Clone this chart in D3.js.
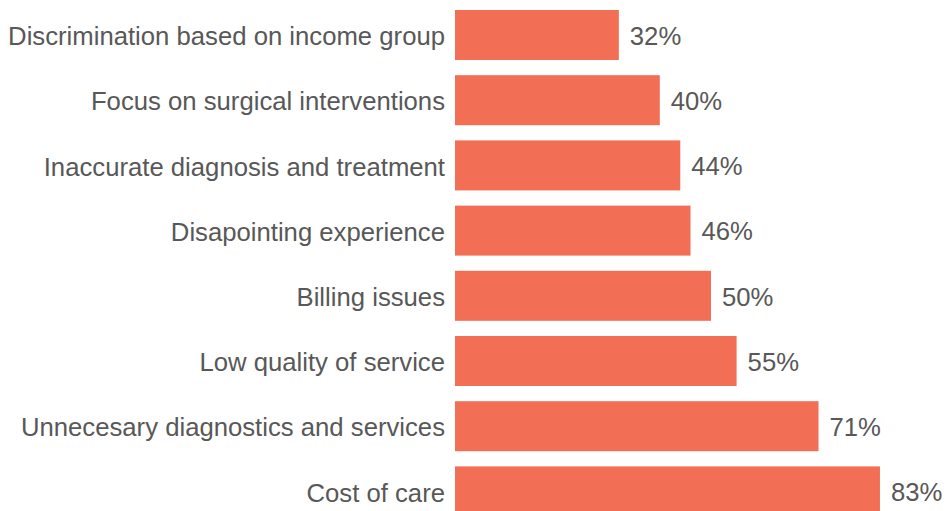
<!DOCTYPE html>
<html>
<head>
<meta charset="utf-8">
<script src="https://cdn.jsdelivr.net/npm/d3@7"></script>
<style>
  html, body { margin: 0; padding: 0; background: #fff; }
  svg { display: block; }
</style>
</head>
<body>
<script>
// Reasons reported, with the share of respondents for each
const categories = [
  "Discrimination based on income group",
  "Focus on surgical interventions",
  "Inaccurate diagnosis and treatment",
  "Disapointing experience",
  "Billing issues",
  "Low quality of service",
  "Unnecesary diagnostics and services",
  "Cost of care"
];
const values = [32, 40, 44, 46, 50, 55, 71, 83];

const width = 948, height = 511;
const barColor = "#F26F55";
const textColor = "#585858";
const fontFamily = "'Helvetica Neue', Helvetica, 'Liberation Sans', Arial, sans-serif";
const fontSize = "25.7px";

const svg = d3.select("body").append("svg")
  .attr("width", width)
  .attr("height", height);

const x = d3.scaleLinear().domain([0, 100]).range([455, 967]);

const pad = 0.233;
const step = 65.2;
const y = d3.scaleBand()
  .domain(categories)
  .range([10 - step * pad / 2, 10 - step * pad / 2 + step * categories.length])
  .paddingInner(pad)
  .paddingOuter(pad / 2);

const rows = categories.map((c, i) => ({ c, v: values[i] }));

// Bars
svg.append("g").selectAll("rect")
  .data(rows)
  .join("rect")
  .attr("x", x(0))
  .attr("y", d => y(d.c))
  .attr("width", d => x(d.v) - x(0))
  .attr("height", y.bandwidth())
  .attr("fill", barColor);

// Category axis on the left, without domain line or ticks
const yAxis = svg.append("g")
  .attr("transform", `translate(${x(0)},0)`)
  .call(d3.axisLeft(y).tickSize(0).tickPadding(10));
yAxis.select(".domain").remove();
yAxis.selectAll("text")
  .attr("fill", textColor)
  .attr("dy", "0.4em")
  .style("font-family", fontFamily)
  .style("font-size", fontSize);

// Value labels at the end of each bar
svg.append("g").selectAll("text")
  .data(rows)
  .join("text")
  .attr("x", d => x(d.v) + 11)
  .attr("y", d => y(d.c) + y.bandwidth() / 2)
  .attr("dy", "0.38em")
  .attr("fill", textColor)
  .style("font-family", fontFamily)
  .style("font-size", fontSize)
  .text(d => d.v + "%");
</script>
</body>
</html>
